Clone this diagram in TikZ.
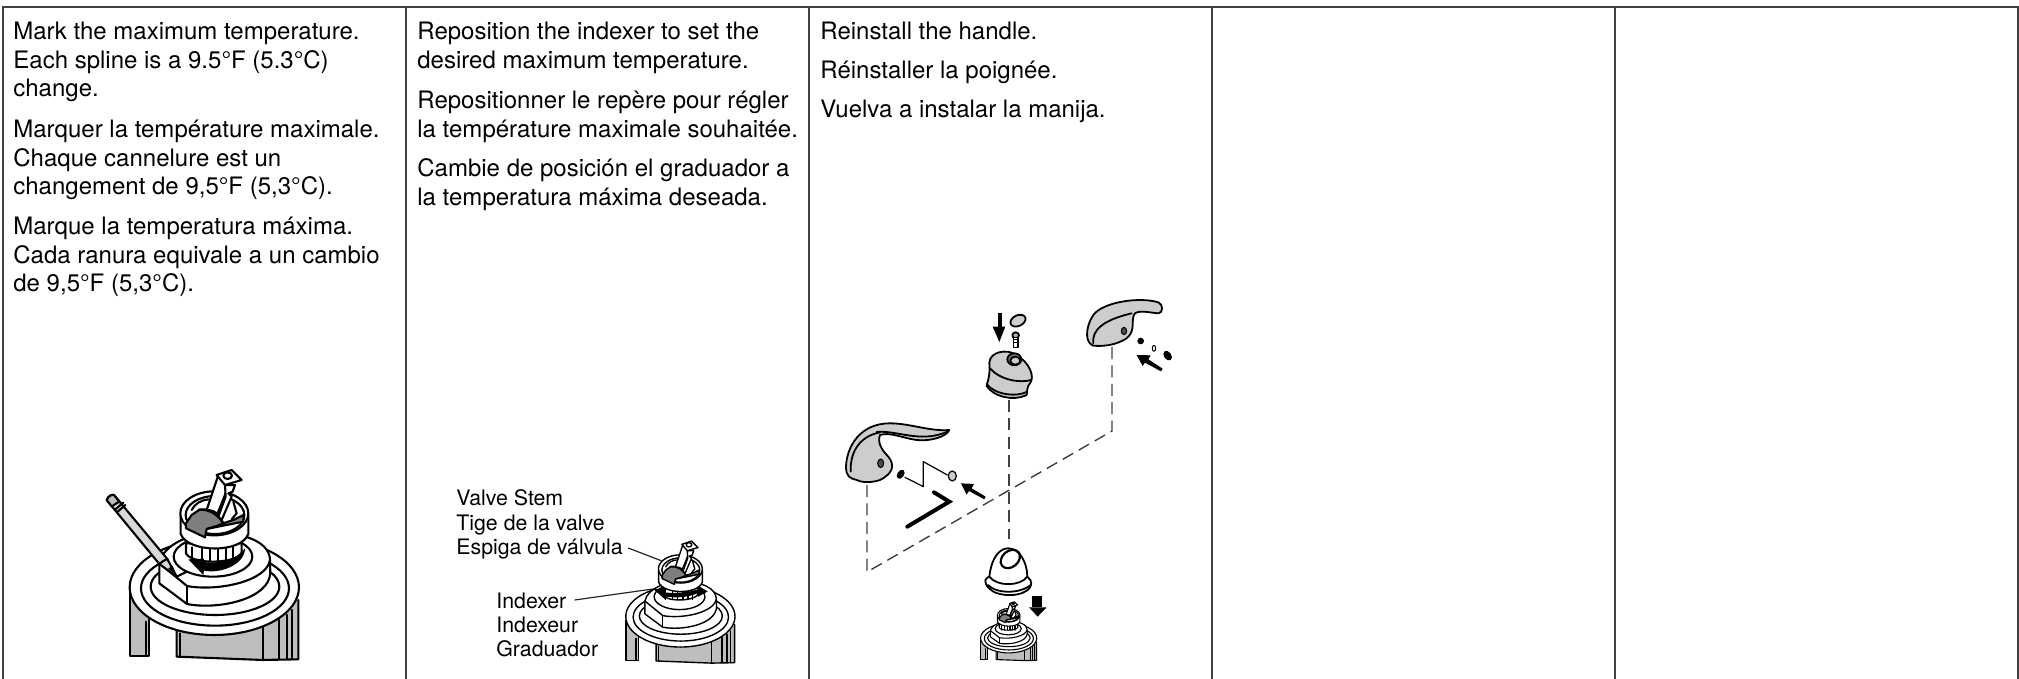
\documentclass[tikz,border=0pt]{standalone}
\usepackage{fontspec}
\setmainfont{TeX Gyre Heros}
\definecolor{gfill}{HTML}{BEBEBE}
\definecolor{dgray}{HTML}{7F7F7F}
\definecolor{hfill}{HTML}{CDCDCD}
\definecolor{rule}{HTML}{404040}
\tikzset{
  txt/.style={anchor=base west,inner sep=0pt,font=\fontsize{12}{14}\selectfont,text=black},
  lab/.style={anchor=base west,inner sep=0pt,font=\fontsize{10.65}{13}\selectfont,text=black},
  grid/.style={draw=rule,line width=1pt},
  leader/.style={draw=black!85,line width=0.6pt},
  dash1/.style={draw=black!75,line width=0.7pt,dash pattern=on 6pt off 3.2pt},
  art/.style={draw=black,line join=round,line cap=round},
}
% valve drawn in the local frame of a 900 x 657 sketch
\newcommand{\valve}[6]{%
\begin{scope}[shift={(#1,#2)},xscale=#3,yscale=#4,art,line width=#5pt]
 % legs and body
 \fill[gfill] (210,400)--(210,587)--(268,587)--(268,470)--cycle;
 \draw (210,400)--(210,587)--(268,587)--(268,470);
 \draw (257,485)--(257,587);
 \fill[gfill] (350,510)--(350,590)--(608,600)--(715,598)--(715,420)--cycle;
 \draw (350,510)--(350,590)--(608,600)--(715,598)--(715,420);
 \draw (360,520)--(360,590);
 \draw (608,495)--(608,600) (657,480)--(657,598) (680,465)--(680,598) (697,450)--(697,598);
 % dish rings
 \draw[fill=white] (463,382) ellipse [x radius=254,y radius=143];
 \draw[fill=white] (465,385) ellipse [x radius=222,y radius=112];
 \draw[fill=white] (465,380) ellipse [x radius=193,y radius=85];
 % nut
 \draw[fill=white] (298,310)--(298,370)--(381,432)
   .. controls (470,450) and (625,420) .. (631,340)--(630,300)--cycle;
 \draw[fill=white] (298,310) .. controls (310,250) and (400,218) .. (465,218)
   .. controls (560,218) and (630,250) .. (630,300)
   .. controls (620,365) and (470,395) .. (381,378) -- cycle;
 \draw (381,378)--(381,432);
 \draw[fill=white] (459,290) ellipse [x radius=118,y radius=60];
 % splined collar
 \draw[fill=white] (378,250)--(378,280) .. controls (395,315) and (530,312) .. (545,278)--(545,250)--cycle;
 \foreach \sx in {395,425,450,475,498,520} {\draw (\sx,262)--(\sx,303);}
 % arrow
 #6
 % top cup
 \draw[fill=white] (362,165)--(362,222) .. controls (385,280) and (545,280) .. (565,222)--(565,165)--cycle;
 \draw[fill=white] (463,160) ellipse [x radius=102,y radius=66];
 \draw[fill=white] (465,165) ellipse [x radius=88,y radius=57];
 \draw (395,150) .. controls (405,130) and (425,120) .. (445,118);
 % index disc
 \draw[fill=dgray] (395,165)--(378,190)--(378,205)--(435,232)--(440,207)--(550,185)--(550,165)
   --(525,178)--(490,190) .. controls (480,165) and (455,145) .. (420,148)--cycle;
 \draw (440,207)--(470,198)--(495,188);
 \draw (520,125)--(530,160)--(515,178);
 % stem
 \draw[fill=white] (475,45)--(440,150) .. controls (455,150) and (465,155) .. (472,162)--(497,100)--(500,75)--cycle;
 \draw[fill=white] (495,75)--(525,75)--(518,95)--(505,100)--(515,110)--(485,180)--(475,170)--(497,110)--cycle;
 \draw[fill=white] (470,45)--(515,30)--(545,60)--(495,75)--cycle;
 \draw (503,47) ellipse [x radius=13,y radius=10];
 \draw (415,150) .. controls (445,145) and (475,165) .. (488,188);
\end{scope}}
\begin{document}
\begin{tikzpicture}[x=0.5pt,y=-0.5pt]
\useasboundingbox (0,0) rectangle (2019,679);
% table rules
\draw[grid] (3,679)--(3,7.5)--(2017.5,7.5)--(2017.5,679);
\foreach \cx in {405.5,808.5,1211.5,1614.5} {\draw[grid] (\cx,7.5)--(\cx,679);}
% column 1
\node[txt] (a1) at (13,40) {Mark the maximum temperature.};
\node[txt] (a2) at (13,68.5) {Each spline is a 9.5°F (5.3°C)};
\node[txt] (a3) at (13,97) {change.};
\node[txt] (a4) at (13,138) {Marquer la température maximale.};
\node[txt] (a5) at (13,166.5) {Chaque cannelure est un};
\node[txt] (a6) at (13,195) {changement de 9,5°F (5,3°C).};
\node[txt] (a7) at (13,235) {Marque la temperatura máxima.};
\node[txt] (a8) at (13,263.5) {Cada ranura equivale a un cambio};
\node[txt] (a9) at (13,292) {de 9,5°F (5,3°C).};
% column 2
\node[txt] (b1) at (417,40) {Reposition the indexer to set the};
\node[txt] (b2) at (417,68.5) {desired maximum temperature.};
\node[txt] (b3) at (417,109) {Repositionner le repère pour régler};
\node[txt] (b4) at (417,137.5) {la température maximale souhaitée.};
\node[txt] (b5) at (417,177) {Cambie de posición el graduador a};
\node[txt] (b6) at (417,205.5) {la temperatura máxima deseada.};
% column 3
\node[txt] (c1) at (820,40) {Reinstall the handle.};
\node[txt] (c2) at (820,79) {Réinstaller la poignée.};
\node[txt] (c3) at (820,118) {Vuelva a instalar la manija.};
% labels
\node[lab] (l1) at (456,505) {Valve Stem};
\node[lab] (l2) at (456,530) {Tige de la valve};
\node[lab] (l3) at (456,554) {Espiga de válvula};
\node[lab] (l4) at (496,608) {Indexer};
\node[lab] (l5) at (496,632) {Indexeur};
\node[lab] (l6) at (496,656) {Graduador};
\coordinate (p1) at (662,561);
\coordinate (p2) at (660,588);
\draw[leader] (l3.base east)++(5,-6) -- (p1);
\draw[leader] (l4.base east)++(8,-8) -- (p2);
% valves
\valve{60}{460}{0.3333}{0.3333}{1.05}{%
 \fill (385,298)--(432,296)--(430,306) .. controls (480,312) and (530,300) .. (555,265)
   .. controls (555,315) and (480,342) .. (432,332)--(430,345)--cycle;}
\valve{580.85}{534.7}{0.215}{0.214}{0.7}{%
 \fill (338,255)--(395,250)--(395,270) .. controls (440,275) and (500,270) .. (545,255)--(540,235)--(590,265)--(545,290)--(540,275) .. controls (490,295) and (440,295) .. (395,290)--(395,305)--cycle;}
\valve{957.5}{598.8}{0.1105}{0.103}{0.55}{}
% pencil
\begin{scope}[shift={(60,460)},scale=0.3333,art,line width=1.05pt]
 \draw[fill=black!15] (140,120) .. controls (145,108) and (155,103) .. (162,105)
   --(322,297)--(350,350)--(298,312)--cycle;
 \draw[fill=gfill] (140,120) .. controls (145,108) and (155,103) .. (162,105)
   --(178,125) .. controls (170,130) and (160,135) .. (156,140)--cycle;
 \draw (166,148)--(190,128) (172,156)--(196,135);
 \draw (298,312) .. controls (305,305) and (315,300) .. (322,297);
 \draw (350,350)--(380,335);
 \fill (350,350)--(325,325)--(338,318)--cycle;
\end{scope}
% handle parts (sketch frame: 3 units per pixel)
\begin{scope}[shift={(830,280)},scale=0.3333,art,line width=0.9pt]
 % right handle
 \draw[fill=hfill] (790,197) .. controls (768,190) and (762,150) .. (790,105)
   .. controls (820,65) and (930,50) .. (985,67) .. controls (1000,72) and (1000,100) .. (985,100)
   .. controls (960,98) and (930,90) .. (915,100) .. controls (900,120) and (920,150) .. (890,175)
   .. controls (860,195) and (820,200) .. (790,197)--cycle;
 \draw (790,190) .. controls (785,150) and (820,120) .. (905,100);
 \draw[fill=black!70,line width=0.5pt] (882,153) ellipse [x radius=8,y radius=11];
 \fill (932,183) circle [radius=10];
 \draw[line width=0.5pt] (972,205) ellipse [x radius=5,y radius=9];
 \fill[rotate around={35:(1013,227)}] (1013,227) ellipse [x radius=11,y radius=16];
 % right arrow
 \fill (998,266)--(955,238)--(962,226)--(920,225)--(938,258)--(945,248)--(993,274)--cycle;
 % screw and cap
 \draw[fill=hfill,rotate around={25:(564,122)}] (564,122) ellipse [x radius=24,y radius=16];
 \draw[fill=black!30] (557,166) ellipse [x radius=10,y radius=9];
 \draw[fill=white,line width=0.6pt] (550,172) rectangle (564,202);
 \draw[line width=0.5pt] (550,180)--(564,180) (550,188)--(564,188);
 \fill (503,100) rectangle (515,145);
 \fill (488,140)--(526,140)--(508,186)--cycle;
 % knob
 \draw[fill=hfill] (478,248) .. controls (480,215) and (530,205) .. (560,225)
   .. controls (600,250) and (615,290) .. (600,310) .. controls (590,320) and (592,335) .. (590,345)
   .. controls (550,365) and (490,350) .. (470,318) .. controls (470,310) and (482,290) .. (478,248)--cycle;
 \draw (470,312) .. controls (495,345) and (560,352) .. (592,335);
 \draw (480,265) .. controls (510,300) and (570,310) .. (604,300);
 \draw[fill=black!55] (553,238) ellipse [x radius=21,y radius=18];
 \draw[fill=hfill] (556,242) ellipse [x radius=15,y radius=12];
 % left handle
 \draw[fill=hfill] (48,560) .. controls (50,500) and (90,430) .. (180,430)
   .. controls (240,430) and (300,455) .. (358,450)
   .. controls (350,470) and (300,485) .. (260,480)
   .. controls (220,475) and (180,455) .. (150,465)
   .. controls (140,490) and (160,515) .. (175,530)
   .. controls (195,555) and (190,580) .. (150,600)
   .. controls (130,607) and (100,610) .. (80,600)
   .. controls (60,595) and (48,590) .. (48,560)--cycle;
 \draw (62,575) .. controls (60,520) and (85,470) .. (150,457);
 \draw (140,456) .. controls (200,450) and (270,490) .. (350,456);
 \draw[fill=black!70,line width=0.5pt] (152,550) ellipse [x radius=9,y radius=13];
 \fill[rotate around={-35:(212,583)}] (212,583) ellipse [x radius=10,y radius=15];
 \draw[fill=hfill,line width=0.6pt] (367,588) ellipse [x radius=12,y radius=15];
 \draw[line width=0.6pt] (225,592)--(280,620)--(280,545)--(352,585);
\end{scope}
\begin{scope}[shift={(830,470)},scale=0.3333,art,line width=0.9pt]
 % left arrow
 \fill (467,80)--(425,55)--(432,42)--(393,40)--(410,74)--(417,63)--(463,88)--cycle;
 % hex key
 \draw[line width=2pt,line join=miter] (312,67)--(358,95)--(232,170);
 % cap
 \draw[fill=white] (466,330) .. controls (470,322) and (475,322) .. (478,320)
   .. controls (485,260) and (510,235) .. (535,235)
   .. controls (570,235) and (592,280) .. (592,320)
   .. controls (600,325) and (605,335) .. (604,342)
   .. controls (600,375) and (530,385) .. (490,365)
   .. controls (475,355) and (465,345) .. (466,330)--cycle;
 \draw (478,320) .. controls (500,350) and (570,350) .. (592,320);
 \draw (474,345) .. controls (500,372) and (570,372) .. (602,345);
 \draw[line width=1.1pt,rotate around={40:(541,267)}] (541,267) ellipse [x radius=32,y radius=24];
 % down arrow
 \fill (607,378) rectangle (637,412);
 \fill (597,412)--(650,412)--(623,440)--cycle;
\end{scope}
% dashed assembly lines
\coordinate (h1) at (867,482);
\coordinate (h2) at (867,572);
\coordinate (k1) at (1009,400);
\coordinate (k2) at (1009,539);
\coordinate (r1) at (1112,347);
\coordinate (r2) at (1112,431);
\draw[dash1] (r1)--(r2)--(h2)--(h1);
\draw[dash1] (k1)--(k2);
\end{tikzpicture}
\end{document}
